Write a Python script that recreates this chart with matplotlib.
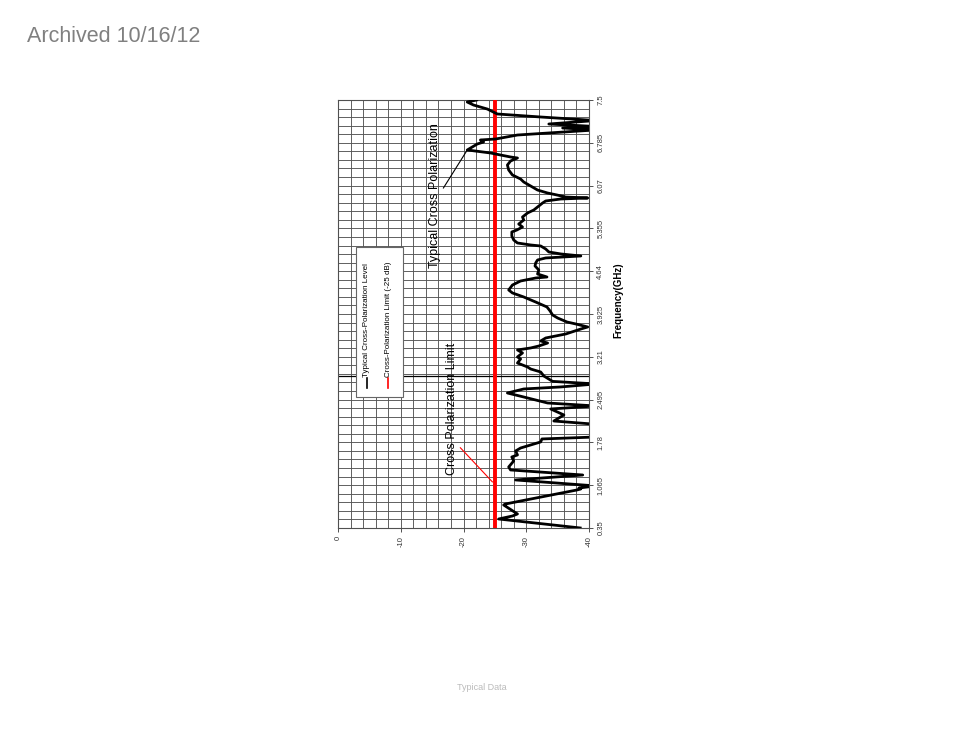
import numpy as np
import matplotlib.pyplot as plt
from matplotlib.patches import Rectangle

plt.rcParams["font.family"] = ["Liberation Sans", "DejaVu Sans"]

# typical cross-polarization level (freq in GHz, level in dB)
freq_ghz = [0.35, 0.50, 0.55, 0.584, 0.734, 0.751, 0.985, 1.002, 1.018, 1.052,
            1.152, 1.235, 1.319, 1.369, 1.469, 1.536, 1.57, 1.636, 1.686, 1.787,
            1.837, 1.87, 1.987, 2.087, 2.137, 2.238, 2.338, 2.388, 2.438, 2.538,
            2.605, 2.672, 2.706, 2.756, 2.799, 2.889, 2.956, 3.006, 3.04, 3.106,
            3.173, 3.207, 3.274, 3.324, 3.357, 3.39, 3.44, 3.474, 3.524, 3.591,
            3.674, 3.708, 3.758, 3.791, 3.858, 3.908, 3.975, 4.042, 4.125, 4.209,
            4.276, 4.326, 4.409, 4.476, 4.526, 4.543, 4.593, 4.66, 4.727, 4.777,
            4.827, 4.861, 4.894, 4.928, 4.961, 5.011, 5.061, 5.078, 5.111, 5.161,
            5.228, 5.295, 5.328, 5.378, 5.428, 5.495, 5.545, 5.612, 5.662, 5.779,
            5.813, 5.846, 5.863, 5.879, 5.913, 5.946, 5.996, 6.063, 6.13, 6.18,
            6.247, 6.331, 6.414, 6.481, 6.531, 6.548, 6.581, 6.615, 6.665, 6.765,
            6.798, 6.832, 6.848, 6.915, 7.0, 7.032, 7.057, 7.099, 7.157, 7.216,
            7.266, 7.349, 7.416, 7.466, 7.5]
xpol_db = [-38.6, -25.6, -27.8, -28.6, -26.4, -26.7, -38.1, -38.7, -38.4, -41.1,
           -28.3, -39.0, -27.5, -27.2, -28.0, -27.7, -28.6, -28.3, -29.1, -32.3,
           -32.5, -41.1, -41.9, -40.5, -34.4, -36.0, -33.9, -41.1, -33.4, -29.6,
           -27.0, -29.6, -35.5, -41.1, -34.2, -32.8, -32.3, -30.7, -30.2, -28.6,
           -29.1, -28.6, -29.4, -28.6, -30.7, -32.0, -33.4, -32.3, -33.1, -36.3,
           -38.7, -39.8, -37.9, -36.5, -35.0, -34.2, -33.8, -33.3, -31.5, -29.6,
           -27.8, -27.2, -27.8, -29.1, -31.5, -33.3, -31.8, -32.0, -31.4, -31.5,
           -31.8, -33.1, -38.7, -35.5, -33.6, -33.1, -32.3, -30.7, -28.6, -28.0,
           -27.7, -27.7, -28.5, -29.4, -28.8, -29.6, -29.4, -30.2, -31.2, -32.6,
           -33.1, -35.5, -39.8, -36.3, -34.9, -33.4, -31.8, -30.7, -29.6, -29.1,
           -27.8, -27.2, -27.0, -27.5, -28.6, -27.5, -25.9, -24.3, -20.6, -22.2,
           -23.2, -22.7, -25.1, -28.6, -41.1, -35.8, -41.1, -33.6, -41.1, -32.3,
           -25.4, -23.8, -21.6, -20.6, -22.1]
limit_db = -25
freq_ticks = [0.35, 1.065, 1.78, 2.495, 3.21, 3.925, 4.64, 5.355, 6.07, 6.785, 7.5]
db_ticks = [0, -10, -20, -30, -40]

fig = plt.figure(figsize=(9.54, 7.38), dpi=100)
ax = fig.add_axes([0.3543, 0.2846, 0.2631, 0.5799])

ax.set_xlim(0, -40)
ax.set_ylim(0.35, 7.5)

# chart grid: 2 dB and 0.143 GHz steps
ax.set_xticks(np.arange(0, -41, -2), minor=True)
ax.set_yticks(np.linspace(0.35, 7.5, 51), minor=True)
ax.grid(which="both", color="#555555", lw=0.65, zorder=1)
ax.tick_params(which="minor", length=0)

ax.set_xticks(db_ticks)
ax.set_xticklabels([str(v) for v in db_ticks], rotation=90, fontsize=5.5, color="#333333")
ax.yaxis.tick_right()
ax.set_yticks(freq_ticks)
ax.set_yticklabels([f"{v:g}" for v in freq_ticks], rotation=90, va="center",
                   fontsize=5.5, color="#333333")
ax.tick_params(which="major", length=3, width=0.7, color="#505050", pad=3)
for s in ax.spines.values():
    s.set_color("#505050")
    s.set_linewidth(0.8)

ax.yaxis.set_label_position("right")
ax.set_ylabel("Frequency(GHz)", rotation=90, fontsize=7, fontweight="bold")
ax.yaxis.set_label_coords(1.096, 0.533)

ax.axhline(2.89, color="black", lw=0.9, zorder=2)
ax.axvline(limit_db, color="red", lw=2.8, zorder=4)
ax.plot(xpol_db, freq_ghz, color="black", lw=2.0, zorder=5, solid_joinstyle="round")

# annotations
ax.text(-15.5, 5.9, "Typical Cross Polarization", rotation=90, ha="center", va="center",
        fontsize=9, zorder=6)
ax.plot([-16.8, -20.6], [6.03, 6.665], color="black", lw=0.8, zorder=6)
ax.text(-18.2, 2.34, "Cross Polarization Limit", rotation=90, ha="center", va="center",
        fontsize=9, zorder=6)
ax.plot([-19.5, -24.6], [1.69, 1.12], color="red", lw=0.8, zorder=6)

# legend drawn by hand (rotated with the chart)
ax.add_patch(Rectangle((0.071, 0.306), 0.188, 0.351, transform=ax.transAxes,
                       facecolor="white", edgecolor="#666666", lw=0.8, zorder=7))
ax.plot([0.1143, 0.1143], [0.327, 0.350], color="black", lw=1.2,
        transform=ax.transAxes, zorder=8)
ax.text(0.1143, 0.353, "Typical Cross-Polarization Level", rotation=90, ha="center",
        va="bottom", fontsize=5.8, transform=ax.transAxes, zorder=8)
ax.plot([0.201, 0.201], [0.327, 0.350], color="red", lw=1.2,
        transform=ax.transAxes, zorder=8)
ax.text(0.201, 0.353, "Cross-Polarization Limit (-25 dB)", rotation=90, ha="center",
        va="bottom", fontsize=5.8, transform=ax.transAxes, zorder=8)

fig.text(27 / 954, 1 - 36 / 738, "Archived 10/16/12", ha="left", va="center",
         fontsize=15.5, color="#808080")
fig.text(482 / 954, 1 - 688 / 738, "Typical Data", ha="center", va="center",
         fontsize=6.5, color="#bbbbbb")

fig.savefig("out.png", dpi=100)
